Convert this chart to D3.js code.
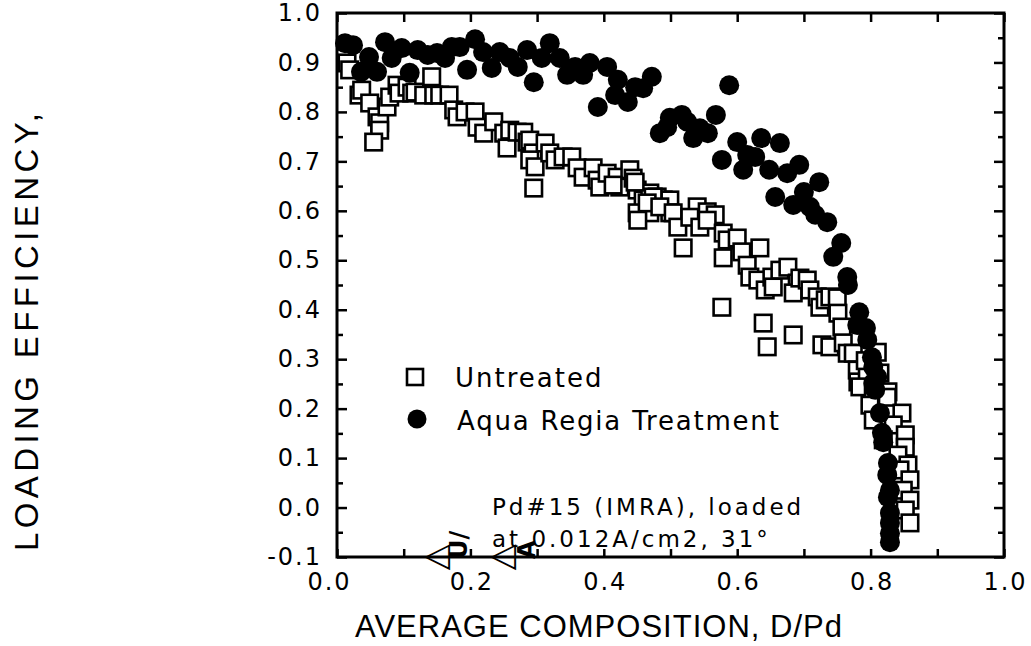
<!DOCTYPE html>
<html>
<head>
<meta charset="utf-8">
<script src="https://cdn.jsdelivr.net/npm/d3@7"></script>
<style>
  html, body { margin: 0; padding: 0; background: #fff; }
  svg { display: block; }
</style>
</head>
<body>
<svg id="chart" width="1031" height="646"></svg>
<script>
// ---- data ----
const untreatedX = [0.015,0.019,0.033,0.037,0.049,0.060,0.064,0.064,0.055,0.075,0.079,0.090,0.093,0.105,0.112,0.117,0.130,0.142,0.145,0.154,0.168,0.175,0.180,0.192,0.207,0.210,0.220,0.235,0.250,0.259,0.255,0.270,0.280,0.285,0.289,0.294,0.289,0.297,0.295,0.312,0.319,0.327,0.339,0.352,0.360,0.369,0.384,0.390,0.394,0.405,0.420,0.424,0.439,0.444,0.450,0.459,0.469,0.480,0.489,0.499,0.450,0.469,0.414,0.447,0.474,0.499,0.540,0.555,0.567,0.451,0.465,0.484,0.504,0.511,0.519,0.529,0.544,0.555,0.579,0.585,0.579,0.600,0.607,0.615,0.619,0.634,0.631,0.642,0.652,0.654,0.664,0.676,0.690,0.684,0.694,0.705,0.709,0.720,0.724,0.732,0.739,0.750,0.751,0.757,0.577,0.639,0.645,0.684,0.727,0.739,0.759,0.765,0.774,0.780,0.781,0.795,0.810,0.814,0.826,0.784,0.804,0.825,0.792,0.799,0.847,0.804,0.834,0.819,0.852,0.852,0.841,0.856,0.844,0.859,0.849,0.859,0.852,0.859];
const untreatedY = [0.899,0.885,0.834,0.844,0.818,0.790,0.778,0.763,0.739,0.810,0.830,0.854,0.838,0.850,0.838,0.840,0.834,0.871,0.834,0.834,0.834,0.804,0.790,0.800,0.800,0.769,0.757,0.780,0.757,0.763,0.727,0.759,0.759,0.739,0.743,0.717,0.703,0.689,0.646,0.737,0.717,0.703,0.709,0.709,0.687,0.668,0.687,0.662,0.648,0.676,0.668,0.648,0.683,0.666,0.642,0.622,0.636,0.628,0.622,0.622,0.596,0.596,0.652,0.658,0.628,0.596,0.608,0.598,0.592,0.581,0.616,0.608,0.596,0.567,0.525,0.587,0.567,0.581,0.555,0.541,0.505,0.545,0.517,0.490,0.466,0.525,0.460,0.440,0.466,0.446,0.480,0.486,0.454,0.434,0.464,0.460,0.440,0.426,0.405,0.420,0.426,0.424,0.393,0.365,0.405,0.373,0.325,0.349,0.329,0.325,0.333,0.312,0.312,0.278,0.254,0.272,0.314,0.272,0.234,0.244,0.232,0.223,0.297,0.207,0.191,0.177,0.167,0.137,0.147,0.122,0.106,0.086,0.076,0.056,0.035,0.015,-0.005,-0.031];

const aquaX = [0.012,0.024,0.072,0.048,0.036,0.060,0.082,0.097,0.109,0.121,0.136,0.150,0.162,0.172,0.184,0.195,0.207,0.219,0.232,0.244,0.259,0.271,0.285,0.295,0.307,0.319,0.334,0.345,0.357,0.369,0.379,0.405,0.391,0.421,0.417,0.436,0.447,0.459,0.472,0.484,0.499,0.495,0.517,0.525,0.534,0.544,0.556,0.568,0.588,0.600,0.636,0.664,0.577,0.615,0.627,0.609,0.648,0.675,0.693,0.723,0.700,0.657,0.684,0.709,0.717,0.735,0.756,0.744,0.765,0.766,0.783,0.780,0.793,0.795,0.802,0.804,0.810,0.807,0.804,0.814,0.817,0.819,0.826,0.825,0.829,0.826,0.829,0.829,0.829,0.829];
const aquaY = [0.939,0.935,0.941,0.911,0.881,0.881,0.909,0.929,0.879,0.925,0.915,0.919,0.909,0.931,0.931,0.885,0.947,0.921,0.889,0.921,0.909,0.891,0.925,0.860,0.909,0.939,0.909,0.875,0.891,0.875,0.899,0.891,0.810,0.865,0.834,0.820,0.850,0.848,0.871,0.757,0.788,0.769,0.794,0.780,0.747,0.767,0.757,0.794,0.854,0.739,0.747,0.737,0.703,0.713,0.709,0.683,0.683,0.676,0.693,0.658,0.638,0.628,0.612,0.608,0.592,0.577,0.535,0.507,0.466,0.450,0.395,0.369,0.363,0.339,0.304,0.284,0.264,0.238,0.252,0.191,0.151,0.132,0.090,0.066,0.035,0.021,-0.011,-0.031,-0.052,-0.070];

const xTickLabels = ["0.0","0.2","0.4","0.6","0.8","1.0"];
const yTickLabels = ["-0.1","0.0","0.1","0.2","0.3","0.4","0.5","0.6","0.7","0.8","0.9","1.0"];
const xMajorTicks = [0.0,0.1,0.2,0.3,0.4,0.5,0.6,0.7,0.8,0.9,1.0];
const yMinorTicks = [-0.05,0.05,0.15,0.25,0.35,0.45,0.55,0.65,0.75,0.85,0.95];

const seriesNames = ["Untreated", "Aqua Regia Treatment"];
const xTitle = "AVERAGE COMPOSITION,  D/Pd";
const yTitle = "LOADING EFFICIENCY,";
const noteLines = ["Pd#15 (IMRA), loaded", "at 0.012A/cm2, 31\u00B0"];

// ---- layout ----
const L = 337, T = 13, R = 1004, B = 557;
const svg = d3.select("#chart");
const x = d3.scaleLinear().domain([0, 1]).range([L, R]);
const y = d3.scaleLinear().domain([-0.1, 1.0]).range([B, T]);

const tickFont = "'DejaVu Sans', sans-serif";

function styleAxis(g) {
  g.select(".domain").remove();
  g.selectAll(".tick line").attr("stroke", "#000").attr("stroke-width", 2.5);
  g.selectAll(".tick text").attr("font-family", tickFont).attr("font-size", 24)
    .attr("letter-spacing", "2px").attr("fill", "#000");
}

// bottom ticks with labels at 0.2 steps
svg.append("g").attr("transform", `translate(0,${B})`)
  .call(d3.axisBottom(x).tickValues(xMajorTicks).tickSize(-8).tickPadding(16)
    .tickFormat(d => {
      const s = d3.format(".1f")(d);
      return xTickLabels.includes(s) ? s : "";
    }))
  .call(styleAxis)
  .call(g => g.selectAll(".tick text").attr("dx", "1"))
  .call(g => g.selectAll(".tick text").filter(d => d === 0).attr("dx", "-8"));

// top ticks
svg.append("g").attr("transform", `translate(0,${T})`)
  .call(d3.axisTop(x).tickValues(xMajorTicks).tickSize(-9).tickFormat(""))
  .call(styleAxis);

// left major + labels
svg.append("g").attr("transform", `translate(${L},0)`)
  .call(d3.axisLeft(y).tickValues(yTickLabels.map(Number)).tickSize(-10).tickPadding(15)
    .tickFormat(d => yTickLabels.find(s => Math.abs(Number(s) - d) < 1e-9)))
  .call(styleAxis);
// left minor
svg.append("g").attr("transform", `translate(${L},0)`)
  .call(d3.axisLeft(y).tickValues(yMinorTicks).tickSize(-6).tickFormat(""))
  .call(styleAxis);
// right major + minor
svg.append("g").attr("transform", `translate(${R},0)`)
  .call(d3.axisRight(y).tickValues(yTickLabels.map(Number)).tickSize(-10).tickFormat(""))
  .call(styleAxis);
svg.append("g").attr("transform", `translate(${R},0)`)
  .call(d3.axisRight(y).tickValues(yMinorTicks).tickSize(-6).tickFormat(""))
  .call(styleAxis);

// frame
svg.append("rect").attr("x", L).attr("y", T).attr("width", R - L).attr("height", B - T)
  .attr("fill", "none").attr("stroke", "#000").attr("stroke-width", 3);

// data: squares first, circles on top
const sq = 16.5;
svg.append("g").selectAll("rect")
  .data(untreatedX.map((d, i) => [d, untreatedY[i]]))
  .join("rect")
  .attr("x", d => x(d[0]) - sq / 2).attr("y", d => y(d[1]) - sq / 2)
  .attr("width", sq).attr("height", sq)
  .attr("fill", "#fff").attr("stroke", "#000").attr("stroke-width", 2.6);

svg.append("g").selectAll("circle")
  .data(aquaX.map((d, i) => [d, aquaY[i]]))
  .join("circle")
  .attr("cx", d => x(d[0])).attr("cy", d => y(d[1])).attr("r", 10)
  .attr("fill", "#000");

// legend
const lg = svg.append("g");
lg.append("rect").attr("x", 407).attr("y", 369).attr("width", 16).attr("height", 16)
  .attr("fill", "#fff").attr("stroke", "#000").attr("stroke-width", 2.6);
lg.append("circle").attr("cx", 417).attr("cy", 419).attr("r", 9.5).attr("fill", "#000");
lg.append("text").attr("x", 455).attr("y", 387).text(seriesNames[0])
  .attr("font-family", tickFont).attr("font-size", 26).attr("letter-spacing", "2px");
lg.append("text").attr("x", 457).attr("y", 430).text(seriesNames[1])
  .attr("font-family", tickFont).attr("font-size", 26).attr("letter-spacing", "1.8px");

// note
svg.append("text").attr("x", 492).attr("y", 515).text(noteLines[0])
  .attr("font-family", tickFont).attr("font-size", 23).attr("letter-spacing", "3px");
svg.append("text").attr("x", 492).attr("y", 547).text(noteLines[1])
  .attr("font-family", tickFont).attr("font-size", 23).attr("letter-spacing", "3px");

// small rotated glyph marks at the bottom axis
const gm = svg.append("g").attr("font-family", tickFont).attr("fill", "#000");
gm.append("text").attr("x", 424).attr("y", 566).attr("font-size", 34).text("\u25C1");
gm.append("text").attr("transform", "translate(467,559) rotate(-90)").attr("font-size", 24)
  .attr("font-weight", "bold").text("U/");
gm.append("text").attr("x", 490).attr("y", 566).attr("font-size", 34).text("\u25C1");
gm.append("text").attr("transform", "translate(535,559) rotate(-90)").attr("font-size", 24)
  .attr("font-weight", "bold").text("A");

// axis titles
svg.append("text").attr("x", 355).attr("y", 637).text(xTitle)
  .attr("font-family", "'Liberation Sans', Arial, sans-serif").attr("font-size", 31)
  .attr("textLength", 487).attr("lengthAdjust", "spacing");
svg.append("text").attr("transform", "translate(38,551) rotate(-90)").text(yTitle)
  .attr("font-family", "'Liberation Sans', Arial, sans-serif").attr("font-size", 33)
  .attr("textLength", 438).attr("lengthAdjust", "spacing");
</script>
</body>
</html>
